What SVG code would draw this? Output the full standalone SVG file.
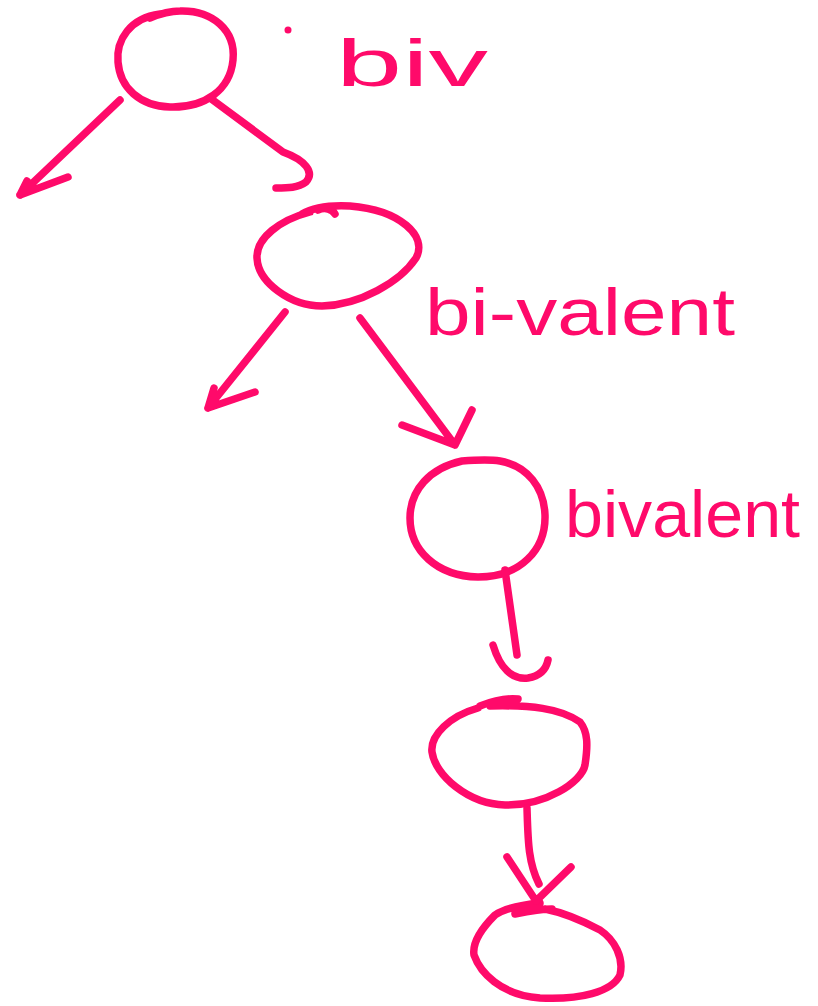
<svg xmlns="http://www.w3.org/2000/svg" width="818" height="1006" viewBox="0 0 818 1006">
<style>
.s{fill:none;stroke:#ff0a6a;stroke-width:7.5;stroke-linecap:round;stroke-linejoin:round}
.t{fill:#ff0a6a;font-family:"Liberation Sans",sans-serif;font-size:66px}
</style>
<rect width="818" height="1006" fill="#fff"/>
<g id="node1">
<path class="s" d="M160,14 C130,18 116,40 118,62 C120,88 140,106 170,107 C205,108 230,90 233,60 C236,30 212,10 180,11 C170,11 162,13 150,18"/>
</g>
<g id="node2">
<path class="s" d="M310,212 C280,220 256,238 257,258 C258,282 290,306 322,306 C360,305 400,282 416,258 C428,236 400,210 350,206 C330,205 312,208 302,214 M318,210 C325,207 332,209 335,214"/>
</g>
<g id="node3">
<path class="s" d="M462,461 C430,468 410,490 410,518 C410,550 436,576 478,577 C520,577 546,550 545,515 C544,488 528,466 500,461 C488,459 475,460 462,461"/>
</g>
<g id="node4">
<path class="s" d="M478,708 C450,716 430,735 432,752 C435,775 468,804 505,805 C545,806 582,782 585,765 C588,745 588,732 580,722 C560,708 530,705 490,706 M480,706 C495,700 508,698 518,699"/>
</g>
<g id="node5">
<path class="s" d="M540,903 C520,905 505,908 495,915 C482,928 472,942 474,955 C480,972 500,995 540,998 C580,1000 612,992 620,975 C624,958 615,940 600,930 C585,922 565,913 545,909 M515,914 C530,911 540,909 552,909"/>
</g>
<g id="connectors">
<path class="s" d="M120,100 L20,195 M20,195 L68,177 M20,195 L27,181"/>
<path class="s" d="M210,98 L283,152 C305,160 315,172 306,182 C298,188 288,188 276,188"/>
<path class="s" d="M285,312 L208,408 M208,408 L255,392 M208,408 L214,388"/>
<path class="s" d="M360,318 L455,445 M402,425 L455,445 L472,410"/>
<path class="s" d="M505,570 L517,655 M493,645 C500,668 512,680 528,678 C540,676 546,670 548,660"/>
<path class="s" d="M527,808 C528,840 528,862 539,884 M507,857 L536,901 L571,867"/>
</g>
<g id="labels">
<circle cx="288" cy="30" r="3.5" fill="#ff0a6a"/>
<text class="t" x="336" y="86" textLength="152" lengthAdjust="spacingAndGlyphs">biv</text>
<text class="t" x="425" y="335" textLength="310" lengthAdjust="spacingAndGlyphs">bi-valent</text>
<text class="t" x="565" y="537" textLength="235" lengthAdjust="spacingAndGlyphs">bivalent</text>
</g>
</svg>
